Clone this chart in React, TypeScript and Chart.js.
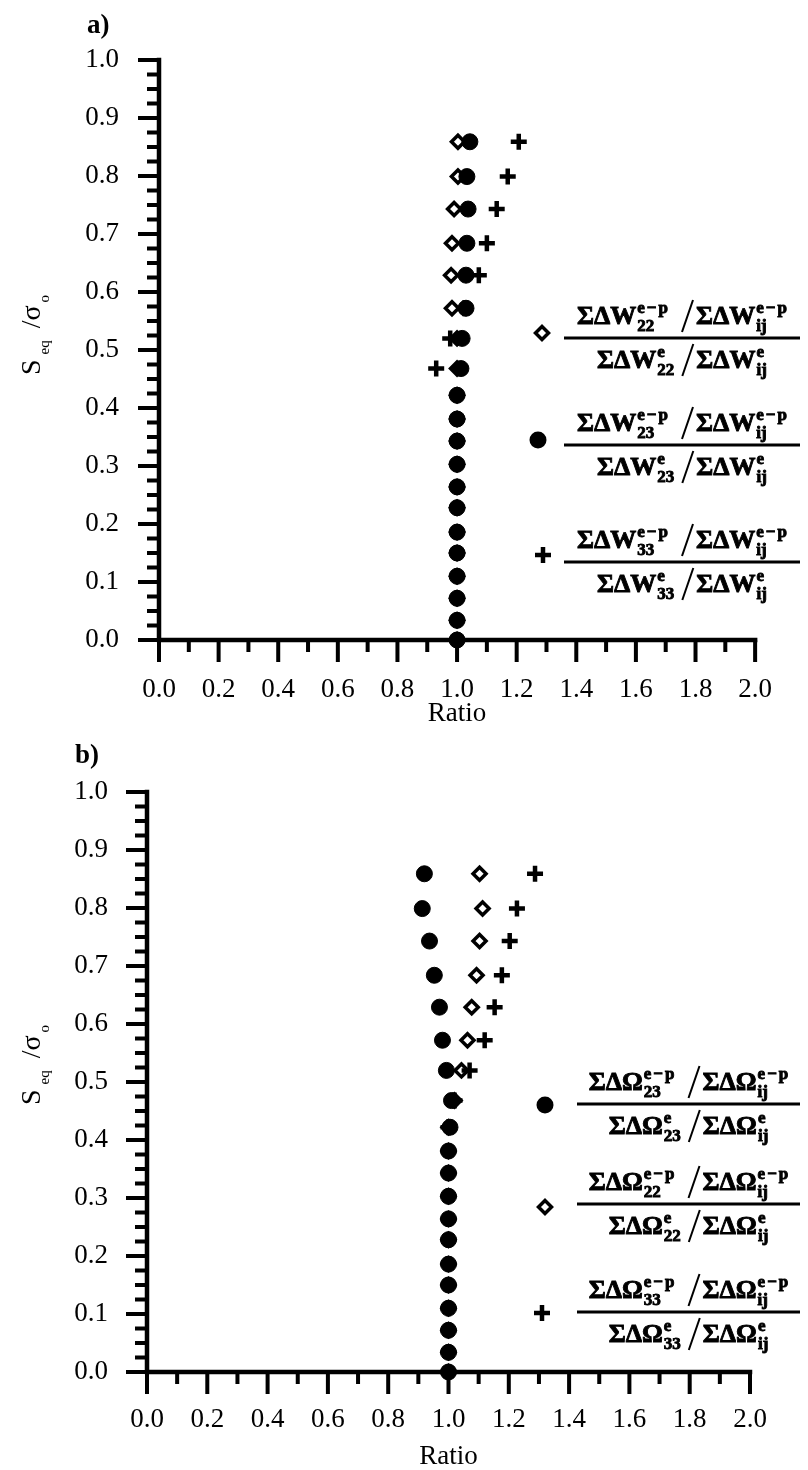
import React, { useEffect, useRef } from 'react';
import { Chart, registerables } from 'chart.js';

Chart.register(...registerables);

// ---------- data ----------
// S_eq / sigma_o levels (shared by both panels)
const seqLevels = [0.0, 0.034, 0.072, 0.110, 0.150, 0.186, 0.228, 0.264, 0.303, 0.343,
  0.381, 0.422, 0.468, 0.520, 0.572, 0.629, 0.684, 0.743, 0.799, 0.859];

// Panel a) : ratios of ΣΔW
const aW22 = [1, 1, 1, 1, 1, 1, 1, 1, 1, 1, 1, 1, 1.0, 1.0, 0.983, 0.98, 0.983, 0.99, 1.003, 1.003];
const aW23 = [1, 1, 1, 1, 1, 1, 1, 1, 1, 1, 1, 1, 1.013, 1.017, 1.03, 1.03, 1.033, 1.037, 1.033, 1.043];
const aW33 = [1, 1, 1, 1, 1, 1, 1, 1, 1, 1, 1, 1, 0.93, 0.977, 1.025, 1.073, 1.10, 1.133, 1.17, 1.207];

// Panel b) : ratios of ΣΔΩ
const bO23 = [1, 1, 1, 1, 1, 1, 1, 1, 1, 1, 1, 1.005, 1.01, 0.993, 0.98, 0.97, 0.953, 0.937, 0.913, 0.92];
const bO22 = [1, 1, 1, 1, 1, 1, 1, 1, 1, 1, 1, 1, 1.02, 1.043, 1.063, 1.077, 1.093, 1.103, 1.113, 1.103];
const bO33 = [1, 1, 1, 1, 1, 1, 1, 1, 1, 1, 1, 1, 1.02, 1.07, 1.12, 1.153, 1.177, 1.203, 1.227, 1.287];

const xTickValues = [0, 0.2, 0.4, 0.6, 0.8, 1.0, 1.2, 1.4, 1.6, 1.8, 2.0];
const yTickValues = [0, 0.1, 0.2, 0.3, 0.4, 0.5, 0.6, 0.7, 0.8, 0.9, 1.0];
const xTitle = 'Ratio';

const legendA = [
  { style: 'diamond', sym: 'W', idx: '22' },
  { style: 'dot', sym: 'W', idx: '23' },
  { style: 'plus', sym: 'W', idx: '33' },
];
const legendB = [
  { style: 'dot', sym: 'Ω', idx: '23' },
  { style: 'diamond', sym: 'Ω', idx: '22' },
  { style: 'plus', sym: 'Ω', idx: '33' },
];

// ---------- styling ----------
const FONT = "'Liberation Serif', 'Times New Roman', Times, serif";
const W = 808;
const H = 735;

function drawMarker(ctx: CanvasRenderingContext2D, style: string, x: number, y: number) {
  ctx.save();
  ctx.strokeStyle = '#000';
  ctx.fillStyle = '#000';
  ctx.lineCap = 'butt';
  ctx.lineJoin = 'miter';
  if (style === 'dot') {
    ctx.beginPath();
    ctx.arc(x, y, 8.5, 0, Math.PI * 2);
    ctx.fill();
  } else if (style === 'diamond') {
    const r = 6.5;
    ctx.beginPath();
    ctx.moveTo(x, y - r);
    ctx.lineTo(x + r, y);
    ctx.lineTo(x, y + r);
    ctx.lineTo(x - r, y);
    ctx.closePath();
    ctx.fillStyle = '#fff';
    ctx.fill();
    ctx.lineWidth = 3.5;
    ctx.stroke();
  } else {
    ctx.lineWidth = 4.5;
    ctx.beginPath();
    ctx.moveTo(x - 8, y);
    ctx.lineTo(x + 8, y);
    ctx.moveTo(x, y - 8);
    ctx.lineTo(x, y + 8);
    ctx.stroke();
  }
  ctx.restore();
}

function heavyText(ctx: CanvasRenderingContext2D, t: string, x: number, y: number) {
  ctx.fillText(t, x, y);
  ctx.lineWidth = 0.9;
  ctx.strokeText(t, x, y);
}

function spacedWidth(ctx: CanvasRenderingContext2D, t: string, sp: number) {
  let w = 0;
  for (let i = 0; i < t.length; i++) w += ctx.measureText(t[i]).width + (i < t.length - 1 ? sp : 0);
  return w;
}
function drawSpaced(ctx: CanvasRenderingContext2D, t: string, x: number, y: number, sp: number) {
  let cx = x;
  for (let i = 0; i < t.length; i++) {
    heavyText(ctx, t[i], cx, y);
    cx += ctx.measureText(t[i]).width + sp;
  }
}

function drawTerm(ctx: CanvasRenderingContext2D, x: number, base: number, sym: string,
  sup: string, sub: string, draw: boolean) {
  ctx.font = `bold 26px ${FONT}`;
  const main = 'ΣΔ' + sym;
  const w = ctx.measureText(main).width;
  if (draw) heavyText(ctx, main, x, base);
  ctx.font = `bold 17px ${FONT}`;
  const wsup = spacedWidth(ctx, sup, 2);
  const wsub = ctx.measureText(sub).width;
  if (draw) {
    drawSpaced(ctx, sup, x + w + 1, base - 11, 2);
    heavyText(ctx, sub, x + w + 1, base + 7);
  }
  return w + 1 + Math.max(wsup, wsub);
}

function drawRatioLine(ctx: CanvasRenderingContext2D, cx: number, base: number, sym: string,
  sup: string, idx: string, gapL: number, gapR: number) {
  const slashW = 11;
  const w1 = drawTerm(ctx, 0, base, sym, sup, idx, false);
  const w2 = drawTerm(ctx, 0, base, sym, sup, 'ij', false);
  const total = w1 + gapL + slashW + gapR + w2;
  let x = cx - total / 2;
  drawTerm(ctx, x, base, sym, sup, idx, true);
  x += w1 + gapL;
  ctx.lineWidth = 2;
  ctx.beginPath();
  ctx.moveTo(x, base + 8);
  ctx.lineTo(x + slashW, base - 24);
  ctx.stroke();
  x += slashW + gapR;
  drawTerm(ctx, x, base, sym, sup, 'ij', true);
}

function drawFraction(ctx: CanvasRenderingContext2D, x0: number, x1: number, barY: number,
  sym: string, idx: string) {
  ctx.fillRect(x0, barY - 1.5, x1 - x0, 3);
  const cx = (x0 + x1) / 2;
  drawRatioLine(ctx, cx, barY - 14, sym, 'e−p', idx, 14, 3);
  drawRatioLine(ctx, cx, barY + 30, sym, 'e', idx, 8, 3);
}

function drawYTitle(ctx: CanvasRenderingContext2D, bx: number, cy: number) {
  const runs = [
    { t: 'S', size: 28, dy: 0, after: 5 },
    { t: 'eq', size: 15, dy: 9, after: 12 },
    { t: '/σ', size: 28, dy: 0, after: 3 },
    { t: 'o', size: 15, dy: 9, after: 0 },
  ];
  let total = 0;
  runs.forEach((r) => {
    ctx.font = `${r.size}px ${FONT}`;
    total += ctx.measureText(r.t).width + r.after;
  });
  ctx.save();
  ctx.translate(bx, cy);
  ctx.rotate(-Math.PI / 2);
  let x = -total / 2;
  runs.forEach((r) => {
    ctx.font = `${r.size}px ${FONT}`;
    ctx.fillText(r.t, x, r.dy);
    x += ctx.measureText(r.t).width + r.after;
  });
  ctx.restore();
}

const axesPlugin = {
  id: 'paperAxes',
  beforeDatasetsDraw(chart: any) {
    const { ctx, chartArea: ca, scales } = chart;
    const x = scales.x;
    const y = scales.y;
    ctx.save();
    ctx.strokeStyle = '#000';
    ctx.lineWidth = 4.5;
    ctx.lineCap = 'square';
    ctx.beginPath();
    ctx.moveTo(ca.left, y.getPixelForValue(1));
    ctx.lineTo(ca.left, ca.bottom);
    ctx.lineTo(x.getPixelForValue(2), ca.bottom);
    ctx.stroke();
    ctx.lineCap = 'butt';
    ctx.lineWidth = 4;
    ctx.beginPath();
    for (let i = 0; i <= 40; i++) {
      const py = y.getPixelForValue(i / 40);
      const len = i % 4 === 0 ? 21 : 12;
      ctx.moveTo(ca.left, py);
      ctx.lineTo(ca.left - len, py);
    }
    for (let i = 0; i <= 20; i++) {
      const px = x.getPixelForValue(i / 10);
      const len = i % 2 === 0 ? 22 : 12;
      ctx.moveTo(px, ca.bottom);
      ctx.lineTo(px, ca.bottom + len);
    }
    ctx.stroke();
    ctx.restore();
  },
};

type PanelCfg = {
  panel: string;
  panelX: number;
  panelY: number;
  yTitleX: number;
  yTitleCY: number;
  legend: { style: string; sym: string; idx: string }[];
  legendPos: { mx: number; my: number; bar: number }[];
  barX0: number;
  barX1: number;
  yWidth: number;
  xHeight: number;
  padding: { top: number; right: number; bottom: number; left: number };
  yLabelPad: number;
  xLabelPad: number;
  series: { label: string; values: number[]; style: string }[];
};

function decorPlugin(cfg: PanelCfg) {
  return {
    id: 'decor',
    afterDraw(chart: any) {
      const ctx: CanvasRenderingContext2D = chart.ctx;
      ctx.save();
      ctx.fillStyle = '#000';
      ctx.strokeStyle = '#000';
      ctx.textAlign = 'left';
      ctx.textBaseline = 'alphabetic';
      ctx.font = `bold 27px ${FONT}`;
      ctx.fillText(cfg.panel, cfg.panelX, cfg.panelY);
      drawYTitle(ctx, cfg.yTitleX, cfg.yTitleCY);
      cfg.legend.forEach((e, i) => {
        const p = cfg.legendPos[i];
        drawMarker(ctx, e.style, p.mx, p.my);
        ctx.fillStyle = '#000';
        ctx.strokeStyle = '#000';
        drawFraction(ctx, cfg.barX0, cfg.barX1, p.bar, e.sym, e.idx);
      });
      ctx.restore();
    },
  };
}

function makeDataset(s: { label: string; values: number[]; style: string }) {
  const base: any = {
    label: s.label,
    data: seqLevels.map((lv, i) => ({ x: s.values[i], y: lv })),
    showLine: false,
    clip: false,
  };
  if (s.style === 'plus') {
    return { ...base, order: 0, pointStyle: 'cross', pointRadius: 8, pointBorderWidth: 4.5,
      pointBorderColor: '#000', pointBackgroundColor: '#000', borderColor: '#000' };
  }
  if (s.style === 'dot') {
    return { ...base, order: 1, pointStyle: 'circle', pointRadius: 8, pointBorderWidth: 1,
      pointBorderColor: '#000', pointBackgroundColor: '#000', borderColor: '#000' };
  }
  return { ...base, order: 2, pointStyle: 'rectRot', pointRadius: 6.5, pointBorderWidth: 3.5,
    pointBorderColor: '#000', pointBackgroundColor: '#fff', borderColor: '#000' };
}

function Panel({ cfg, top }: { cfg: PanelCfg; top: number }) {
  const ref = useRef<HTMLCanvasElement | null>(null);
  useEffect(() => {
    if (!ref.current) return;
    const chart = new Chart(ref.current, {
      type: 'scatter',
      data: { datasets: cfg.series.map(makeDataset) },
      options: {
        animation: false,
        responsive: false,
        devicePixelRatio: 1,
        events: [],
        layout: { padding: cfg.padding },
        plugins: { legend: { display: false }, tooltip: { enabled: false } },
        scales: {
          x: {
            type: 'linear',
            min: 0,
            max: 2,
            grid: { display: false, drawTicks: false },
            border: { display: false },
            afterBuildTicks: (s: any) => { s.ticks = xTickValues.map((v) => ({ value: v })); },
            afterFit: (s: any) => { s.height = cfg.xHeight; },
            ticks: {
              color: '#000',
              padding: cfg.xLabelPad,
              maxRotation: 0,
              autoSkip: false,
              font: { family: FONT, size: 27, lineHeight: 1 },
              callback: (v: any) => Number(v).toFixed(1),
            },
            title: {
              display: true,
              text: xTitle,
              color: '#000',
              padding: 0,
              font: { family: FONT, size: 27, lineHeight: 1 },
            },
          },
          y: {
            type: 'linear',
            min: 0,
            max: 1,
            grid: { display: false, drawTicks: false },
            border: { display: false },
            afterBuildTicks: (s: any) => { s.ticks = yTickValues.map((v) => ({ value: v })); },
            afterFit: (s: any) => { s.width = cfg.yWidth; },
            ticks: {
              color: '#000',
              padding: cfg.yLabelPad,
              autoSkip: false,
              font: { family: FONT, size: 27, lineHeight: 1 },
              callback: (v: any) => Number(v).toFixed(1),
            },
          },
        },
      },
      plugins: [axesPlugin, decorPlugin(cfg)],
    } as any);
    return () => chart.destroy();
  }, [cfg]);
  return (
    <canvas
      ref={ref}
      width={W}
      height={H}
      style={{ position: 'absolute', left: 0, top, width: W, height: H, display: 'block' }}
    />
  );
}

const panelA: PanelCfg = {
  panel: 'a)',
  panelX: 87,
  panelY: 33,
  yTitleX: 40,
  yTitleCY: 335,
  legend: legendA,
  legendPos: [
    { mx: 542, my: 333, bar: 338 },
    { mx: 538, my: 440, bar: 445 },
    { mx: 543, my: 555, bar: 562 },
  ],
  barX0: 564,
  barX1: 800,
  yWidth: 159,
  xHeight: 87,
  padding: { top: 60, right: 44, bottom: 8, left: 0 },
  yLabelPad: 40,
  xLabelPad: 36,
  series: [
    { label: 'ΣΔW33 ratio', values: aW33, style: 'plus' },
    { label: 'ΣΔW23 ratio', values: aW23, style: 'dot' },
    { label: 'ΣΔW22 ratio', values: aW22, style: 'diamond' },
  ],
};

const panelB: PanelCfg = {
  panel: 'b)',
  panelX: 75,
  panelY: 28,
  yTitleX: 40,
  yTitleCY: 330,
  legend: legendB,
  legendPos: [
    { mx: 545, my: 370, bar: 369 },
    { mx: 545, my: 472, bar: 469 },
    { mx: 542, my: 578, bar: 577 },
  ],
  barX0: 577,
  barX1: 800,
  yWidth: 147,
  xHeight: 98,
  padding: { top: 57, right: 58, bottom: 0, left: 0 },
  yLabelPad: 39,
  xLabelPad: 34,
  series: [
    { label: 'ΣΔΩ33 ratio', values: bO33, style: 'plus' },
    { label: 'ΣΔΩ23 ratio', values: bO23, style: 'dot' },
    { label: 'ΣΔΩ22 ratio', values: bO22, style: 'diamond' },
  ],
};

export default function App() {
  useEffect(() => {
    document.body.style.margin = '0';
    document.body.style.overflow = 'hidden';
    document.body.style.background = '#fff';
  }, []);
  return (
    <div style={{ position: 'relative', width: W, height: 1470, background: '#fff' }}>
      <Panel cfg={panelA} top={0} />
      <Panel cfg={panelB} top={735} />
    </div>
  );
}
